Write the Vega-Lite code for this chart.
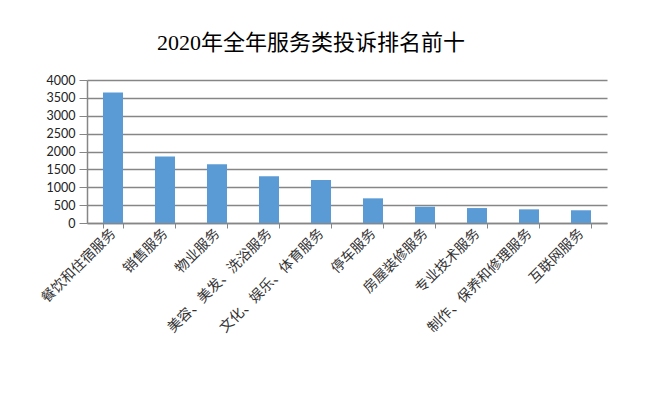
{
  "$schema": "https://vega.github.io/schema/vega-lite/v6.json",
  "autosize": {"type": "none"},
  "width": 520,
  "height": 143,
  "padding": {"left": 87, "top": 80, "right": 43, "bottom": 170},
  "background": "white",
  "title": {
    "text": "2020年全年服务类投诉排名前十",
    "font": "Liberation Serif, Noto Sans CJK SC",
    "fontSize": 22,
    "fontWeight": "normal",
    "color": "#000000",
    "anchor": "middle",
    "dx": -36,
    "offset": 19
  },
  "data": {
    "values": [
      {"category": "餐饮和住宿服务", "count": 3650},
      {"category": "销售服务", "count": 1860},
      {"category": "物业服务", "count": 1640},
      {"category": "美容、美发、洗浴服务", "count": 1310},
      {"category": "文化、娱乐、体育服务", "count": 1205},
      {"category": "停车服务", "count": 690},
      {"category": "房屋装修服务", "count": 455},
      {"category": "专业技术服务", "count": 418},
      {"category": "制作、保养和修理服务", "count": 382},
      {"category": "互联网服务", "count": 356}
    ]
  },
  "mark": {"type": "bar", "color": "#5B9BD5"},
  "encoding": {
    "x": {
      "field": "category",
      "type": "nominal",
      "sort": null,
      "scale": {"paddingInner": 0.615, "paddingOuter": 0.3075},
      "axis": {
        "title": null,
        "labelAngle": -45,
        "labelAlign": "right",
        "labelBaseline": "middle",
        "labelFont": "Noto Sans CJK SC",
        "labelFontSize": 14,
        "labelColor": "#333333",
        "labelPadding": 3,
        "labelLimit": 300,
        "tickBand": "extent",
        "tickSize": 5,
        "tickColor": "#868686",
        "domainColor": "#868686",
        "domainWidth": 1.5
      }
    },
    "y": {
      "field": "count",
      "type": "quantitative",
      "scale": {"domain": [0, 4000], "nice": false},
      "axis": {
        "title": null,
        "format": "d",
        "values": [0, 500, 1000, 1500, 2000, 2500, 3000, 3500, 4000],
        "labelFont": "Lato",
        "labelFontSize": 12.5,
        "labelColor": "#222222",
        "labelPadding": 4,
        "tickSize": 8,
        "tickColor": "#868686",
        "domainColor": "#868686",
        "domainWidth": 1.5,
        "gridColor": "#868686",
        "gridWidth": 1.5
      }
    }
  },
  "config": {"view": {"stroke": null}}
}
